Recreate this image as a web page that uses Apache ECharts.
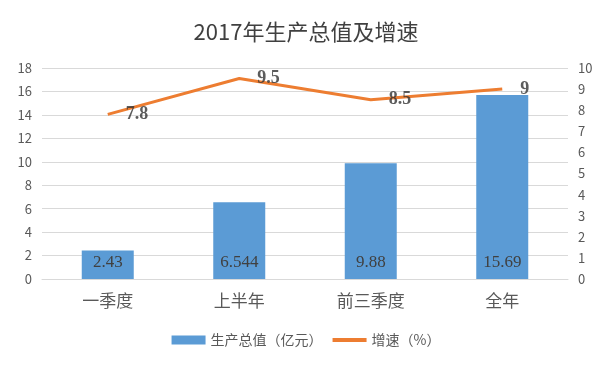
<!DOCTYPE html>
<html><head><meta charset="utf-8">
<script src="https://cdn.jsdelivr.net/npm/echarts@6/dist/echarts.min.js"></script>
<style>html,body{margin:0;padding:0;background:#fff}#c{width:612px;height:372px}</style>
</head><body><div id="c"></div>
<script>
const categories = ['一季度', '上半年', '前三季度', '全年'];
const gdpValues = [2.43, 6.544, 9.88, 15.69];
const growthValues = [7.8, 9.5, 8.5, 9];
const leftTicks = [0, 2, 4, 6, 8, 10, 12, 14, 16, 18];
const rightTicks = [0, 1, 2, 3, 4, 5, 6, 7, 8, 9, 10];

const chart = echarts.init(document.getElementById('c'));
const sans = '"Noto Sans CJK SC", "Noto Sans", sans-serif';
const serif = '"Liberation Serif", "DejaVu Serif", serif';
chart.setOption({
  animation: false,
  title: {
    text: '2017年生产总值及增速', left: 'center', top: 16,
    textStyle: { fontFamily: sans, fontSize: 22, fontWeight: 'normal', color: '#404040' }
  },
  legend: {
    bottom: 20, left: 'center', itemGap: 8, itemWidth: 34, itemHeight: 9,
    textStyle: { fontFamily: sans, fontSize: 14, color: '#595959' },
    data: [
      { name: '生产总值（亿元）', icon: 'rect' },
      { name: '增速（%）', itemStyle: { opacity: 0 }, lineStyle: { width: 4, color: '#ed7d31' } }
    ]
  },
  grid: { left: 42, right: 44, top: 68, bottom: 93 },
  xAxis: {
    type: 'category', data: categories,
    axisTick: { show: false },
    axisLine: { lineStyle: { color: '#d9d9d9' } },
    axisLabel: { fontFamily: sans, fontSize: 17, color: '#595959', margin: 13 }
  },
  yAxis: [
    {
      type: 'value', min: leftTicks[0], max: leftTicks[leftTicks.length - 1], interval: 2,
      axisLine: { show: false }, axisTick: { show: false },
      axisLabel: { fontFamily: sans, fontSize: 13, color: '#595959', margin: 10 },
      splitLine: { lineStyle: { color: '#d9d9d9' } }
    },
    {
      type: 'value', min: rightTicks[0], max: rightTicks[rightTicks.length - 1], interval: 1,
      axisLine: { show: false }, axisTick: { show: false },
      axisLabel: { fontFamily: sans, fontSize: 13, color: '#595959', margin: 10 },
      splitLine: { show: false }
    }
  ],
  series: [
    {
      name: '生产总值（亿元）', type: 'bar', data: gdpValues, barWidth: 52, yAxisIndex: 0,
      itemStyle: { color: '#5b9bd5' },
      label: {
        show: true, position: 'insideBottom', distance: 8,
        fontFamily: serif, fontSize: 17, color: '#404040'
      }
    },
    {
      name: '增速（%）', type: 'line', data: growthValues, yAxisIndex: 1,
      symbol: 'none', lineStyle: { color: '#ed7d31', width: 3 },
      itemStyle: { color: '#ed7d31' }
    },
    {
      name: 'growthLabels', type: 'scatter', data: growthValues, yAxisIndex: 1,
      symbol: 'circle', symbolSize: 2,
      itemStyle: { color: 'rgba(0,0,0,0)' },
      label: {
        show: true, position: 'right', distance: 17,
        fontFamily: serif, fontSize: 18, fontWeight: 'bold', color: '#333333'
      },
      z: 5
    }
  ]
});
</script></body></html>
